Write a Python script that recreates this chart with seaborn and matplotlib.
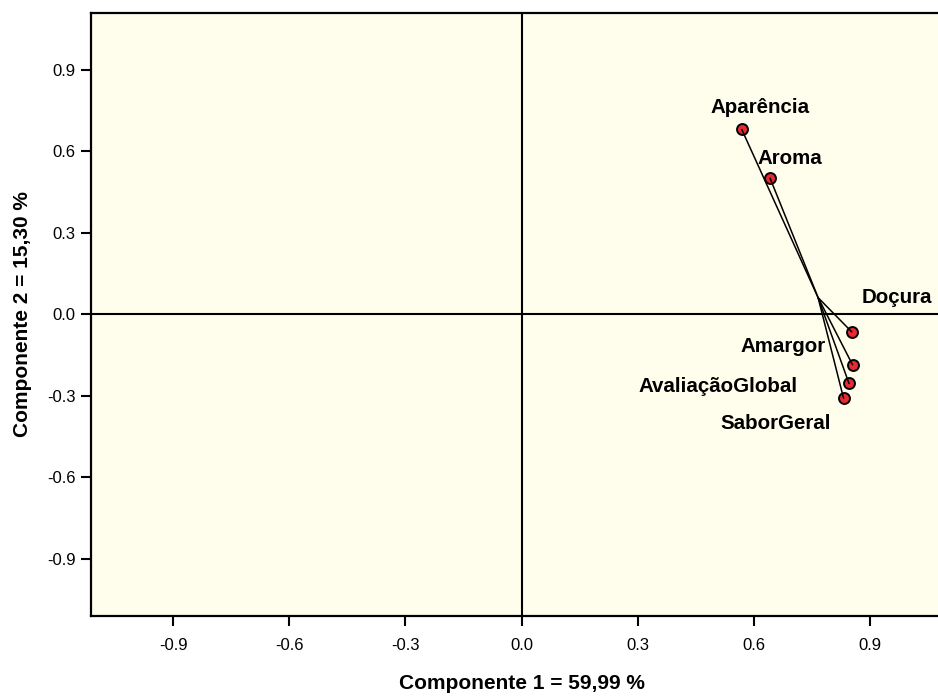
import matplotlib
matplotlib.use("Agg")
import matplotlib.pyplot as plt
import seaborn as sns
import numpy as np
import pandas as pd

# ---- data ----
variables = ["Aparência", "Aroma", "Doçura", "Amargor", "AvaliaçãoGlobal", "SaborGeral"]
comp1 = [0.569, 0.642, 0.853, 0.855, 0.846, 0.832]
comp2 = [0.680, 0.501, -0.065, -0.186, -0.255, -0.310]
tick_values = [-0.9, -0.6, -0.3, 0.0, 0.3, 0.6, 0.9]
tick_labels = ["-0.9", "-0.6", "-0.3", "0.0", "0.3", "0.6", "0.9"]
xlabel = "Componente 1 = 59,99 %"
ylabel = "Componente 2 = 15,30 %"

# label offsets (pixels: dx, dy of baseline centre relative to point)
label_dx = [18, 20, 45, -69, -131, -68]
label_dy = [16, 14, 29, 13, -9, -31]

df = pd.DataFrame({"var": variables, "c1": comp1, "c2": comp2})

sns.set_theme(style="white")
plt.rcParams["font.family"] = ["Liberation Sans", "DejaVu Sans"]

fig = plt.figure(figsize=(9.38, 6.97), dpi=100)
ax = fig.add_axes([91 / 938, 1 - 615.7 / 697, (952 - 91) / 938, (615.7 - 12.7) / 697])
ax.set_facecolor("#FFFDEB")

lim = 1.112
ax.set_xlim(-lim, lim)
ax.set_ylim(-1.11, 1.11)

ax.axhline(0, color="black", lw=1.5, zorder=1)
ax.axvline(0, color="black", lw=1.5, zorder=1)

sns.scatterplot(data=df, x="c1", y="c2", ax=ax, s=62, color="#EA2A33",
                edgecolor="black", linewidth=1.4, zorder=3, legend=False)

cx = np.mean(comp1)
cy = np.mean(comp2)
for x, y in zip(comp1, comp2):
    ax.plot([cx, x], [cy, y], color="black", lw=1.1, zorder=4)

for name, x, y, dx, dy in zip(variables, comp1, comp2, label_dx, label_dy):
    ax.annotate(name, (x, y), xytext=(dx * 0.72, dy * 0.72), textcoords="offset points",
                ha="center", va="baseline", fontsize=14.8, fontweight="bold", color="black",
                zorder=5)

ax.set_xticks(tick_values)
ax.set_xticklabels(tick_labels)
ax.set_yticks(tick_values)
ax.set_yticklabels(tick_labels)
ax.tick_params(axis="both", direction="out", length=7.5, width=1.5, color="black",
               labelsize=12, labelcolor="black")
ax.tick_params(axis="x", pad=8.5)
ax.tick_params(axis="y", pad=3.6)
ax.tick_params(bottom=True, left=True)

for side in ["left", "top", "bottom"]:
    ax.spines[side].set_visible(True)
    ax.spines[side].set_color("black")
    ax.spines[side].set_linewidth(1.6)
ax.spines["right"].set_visible(False)

ax.set_xlabel(xlabel, fontsize=15, fontweight="bold", labelpad=15, color="black")
ax.set_ylabel(ylabel, fontsize=15, fontweight="bold", labelpad=11, color="black")

fig.savefig("out.png", dpi=100)
